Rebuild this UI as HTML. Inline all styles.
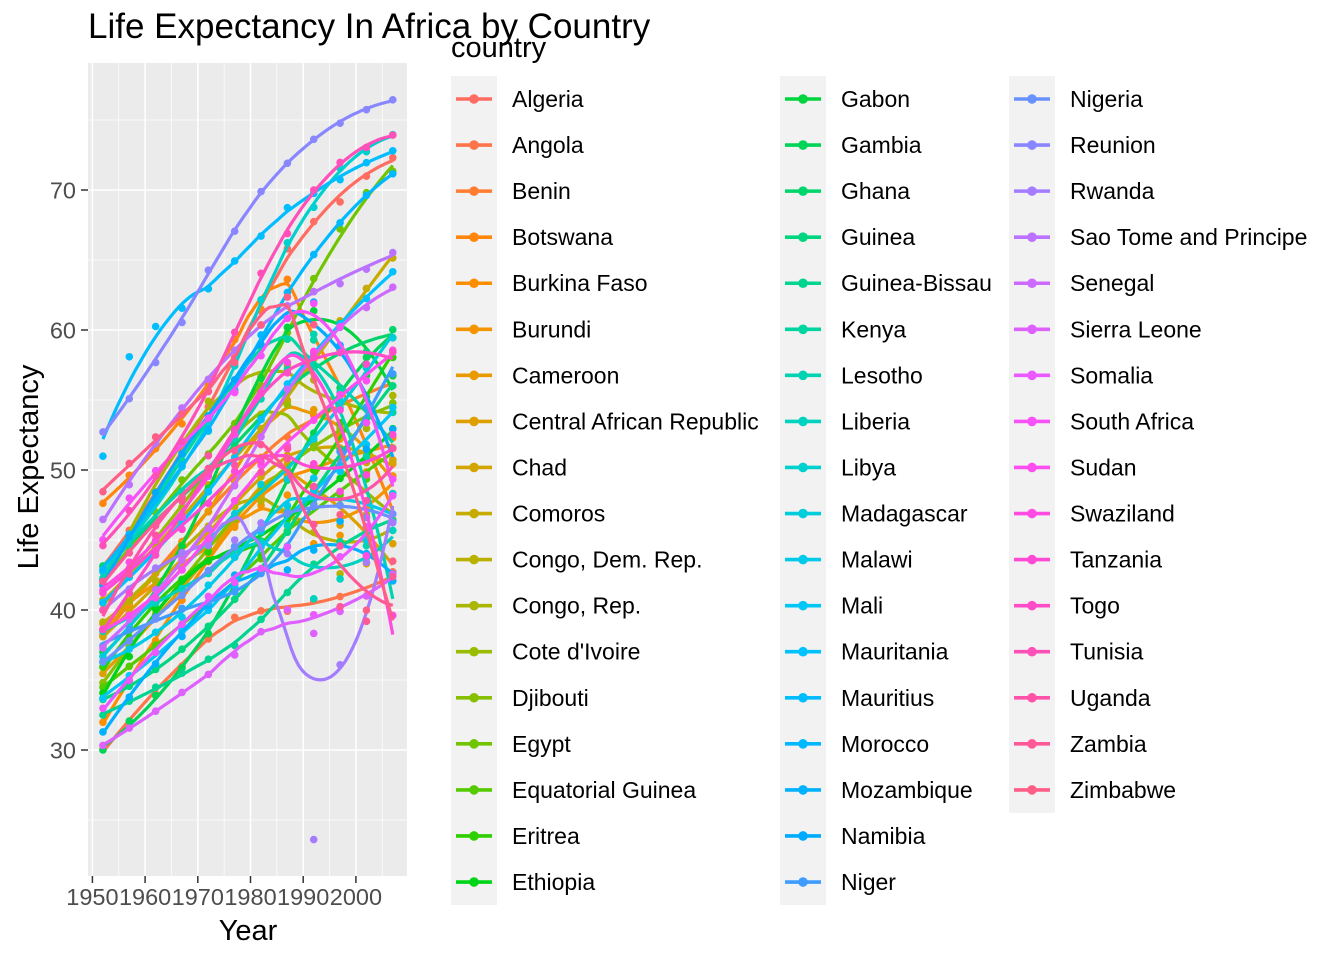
<!DOCTYPE html>
<html><head><meta charset="utf-8"><style>
body{margin:0;background:#fff;font-family:"Liberation Sans",Arial,sans-serif}
svg text{font-family:"Liberation Sans",Arial,sans-serif}
</style></head><body>
<svg id="chart" width="1344" height="960" xmlns="http://www.w3.org/2000/svg">
<rect width="1344" height="960" fill="#fff"/>
<rect x="88" y="63" width="319" height="813" fill="#EBEBEB"/>
<g id="grid"></g>
<g id="marks"></g>
<g id="axes"></g>
<text x="248" y="940" font-size="29" text-anchor="middle" fill="#000">Year</text>
<text transform="translate(38,467) rotate(-90)" font-size="29" text-anchor="middle" fill="#000">Life Expectancy</text>
<g id="legend"></g>
<text x="451" y="57" font-size="29" fill="#000">country</text>
<text x="88" y="38" font-size="35" fill="#000">Life Expectancy In Africa by Country</text>
</svg>
<script>
const years=[1952,1957,1962,1967,1972,1977,1982,1987,1992,1997,2002,2007];
const countries=["Algeria","Angola","Benin","Botswana","Burkina Faso","Burundi","Cameroon","Central African Republic","Chad","Comoros","Congo, Dem. Rep.","Congo, Rep.","Cote d'Ivoire","Djibouti","Egypt","Equatorial Guinea","Eritrea","Ethiopia","Gabon","Gambia","Ghana","Guinea","Guinea-Bissau","Kenya","Lesotho","Liberia","Libya","Madagascar","Malawi","Mali","Mauritania","Mauritius","Morocco","Mozambique","Namibia","Niger","Nigeria","Reunion","Rwanda","Sao Tome and Principe","Senegal","Sierra Leone","Somalia","South Africa","Sudan","Swaziland","Tanzania","Togo","Tunisia","Uganda","Zambia","Zimbabwe"];
const lifeExp=[
[43.08,45.69,48.30,51.41,54.52,58.01,61.37,65.80,67.74,69.15,70.99,72.30],
[30.02,32.00,34.00,35.99,37.93,39.48,39.94,39.91,40.65,40.96,41.00,42.73],
[38.22,40.36,42.62,44.89,47.01,49.19,50.90,52.34,53.92,54.78,54.41,56.73],
[47.62,49.62,51.52,53.30,56.02,59.32,61.48,63.62,62.75,52.56,46.63,50.73],
[31.98,34.91,37.81,40.70,43.59,46.14,48.12,49.56,50.26,50.32,50.65,52.30],
[39.03,40.53,42.05,43.55,44.06,45.91,47.47,48.21,44.74,45.33,47.36,49.58],
[38.52,40.43,42.64,44.80,47.05,49.36,52.96,54.99,54.31,52.20,49.86,50.43],
[35.46,37.46,39.48,41.48,43.46,46.78,48.30,50.49,49.40,46.07,43.31,44.74],
[38.09,39.88,41.72,43.60,45.57,47.38,49.52,51.05,51.72,51.57,50.53,50.65],
[40.72,42.46,44.47,46.47,48.94,50.94,52.93,54.93,57.94,60.66,62.97,65.15],
[39.14,40.65,42.12,44.06,45.99,47.80,47.78,47.41,45.55,42.59,44.97,46.46],
[42.11,45.05,48.44,52.04,54.91,55.63,56.70,57.47,56.43,52.96,52.97,55.32],
[40.48,42.47,44.93,47.35,49.80,52.37,53.98,54.66,52.04,47.99,46.83,48.33],
[34.81,37.33,39.69,42.07,44.37,46.52,48.81,50.04,51.60,53.16,53.37,54.79],
[41.89,44.44,46.99,49.29,51.14,53.32,56.01,59.80,63.67,67.22,69.81,71.34],
[34.48,35.98,37.49,38.99,40.52,42.02,43.66,45.66,47.55,48.25,49.35,51.58],
[35.93,38.05,40.16,42.19,44.14,44.54,43.89,46.45,49.99,53.38,55.24,58.04],
[34.08,36.67,40.06,42.12,43.52,44.51,44.92,46.68,48.09,49.40,50.73,52.95],
[37.00,39.00,40.49,44.60,48.69,52.79,56.56,60.19,61.37,60.46,56.76,56.74],
[30.00,32.07,33.90,35.86,38.31,41.84,45.58,49.27,52.64,55.86,58.04,59.45],
[43.15,44.78,46.45,48.07,49.88,51.76,53.74,55.73,57.50,58.56,58.45,60.02],
[33.61,34.56,35.75,37.20,38.84,40.76,42.89,45.55,48.58,51.46,53.68,56.01],
[32.50,33.49,34.49,35.49,36.49,37.47,39.33,41.25,43.27,44.87,45.50,46.39],
[42.27,44.69,47.95,50.65,53.56,56.16,58.77,59.34,59.29,54.41,50.99,54.11],
[42.14,45.05,47.75,48.49,49.77,52.21,55.08,57.18,59.69,55.56,44.59,42.59],
[38.48,39.49,40.50,41.54,42.61,43.76,44.85,46.03,40.80,42.22,43.75,45.68],
[42.72,45.29,47.81,50.23,52.77,57.44,62.16,66.23,68.76,71.56,72.74,73.95],
[36.68,38.87,40.85,42.88,44.85,46.88,48.97,49.35,52.21,54.98,57.29,59.44],
[36.26,37.21,38.41,39.49,41.77,43.77,45.64,47.46,49.42,47.50,45.01,48.30],
[33.69,35.31,36.94,38.49,39.98,41.71,44.50,47.00,48.39,49.90,51.82,54.47],
[40.54,42.34,44.25,46.29,48.44,50.85,53.60,56.15,58.33,60.43,62.25,64.16],
[50.99,58.09,60.25,61.56,62.94,64.93,66.71,68.74,69.75,70.74,71.95,72.80],
[42.87,45.42,47.92,50.34,52.86,55.73,59.65,62.68,65.39,67.66,69.62,71.16],
[31.29,33.78,36.16,38.11,40.33,42.50,42.80,42.86,44.28,46.34,44.03,42.08],
[41.73,45.23,48.39,51.16,53.87,56.44,58.97,60.84,62.00,58.91,51.48,52.91],
[37.44,38.60,39.49,40.12,40.55,41.29,42.60,44.56,47.39,51.31,54.50,56.87],
[36.32,37.80,39.36,41.04,42.82,44.51,45.83,46.89,47.47,47.46,46.61,46.86],
[52.72,55.09,57.67,60.54,64.27,67.06,69.89,71.91,73.62,74.77,75.74,76.44],
[40.00,41.50,43.00,44.10,44.60,45.00,46.22,44.02,23.60,36.09,43.41,46.24],
[46.47,48.95,51.89,54.43,56.48,58.55,60.35,61.73,62.74,63.31,64.34,65.53],
[37.28,39.33,41.45,43.56,45.82,48.88,52.38,55.77,58.20,60.19,61.60,63.06],
[30.33,31.57,32.77,34.11,35.40,36.79,38.45,40.01,38.33,39.90,41.01,42.57],
[32.98,34.98,36.98,38.98,40.97,41.97,42.96,44.50,39.66,43.80,45.94,48.16],
[45.01,47.99,49.95,51.93,53.70,55.53,58.16,60.83,61.89,60.24,53.37,49.34],
[38.64,39.62,40.87,42.86,45.08,47.80,50.34,51.74,53.56,55.37,56.37,58.56],
[41.41,43.42,44.99,46.63,49.55,52.54,55.56,57.68,58.47,54.29,43.87,39.61],
[41.22,42.97,44.25,45.76,47.62,49.92,50.61,51.54,50.44,48.47,49.65,52.52],
[38.60,41.21,43.92,46.77,49.76,52.89,55.47,56.94,58.06,58.39,57.56,58.42],
[44.60,47.10,49.58,52.05,55.60,59.84,64.05,66.89,70.00,71.97,73.04,73.92],
[39.98,42.57,45.34,48.05,51.02,50.35,49.85,51.51,48.83,44.58,47.81,51.54],
[42.04,44.08,46.02,47.77,50.11,51.39,51.82,50.82,46.10,40.24,39.19,42.38],
[48.45,50.47,52.36,54.00,55.64,57.67,60.36,62.35,60.38,46.81,39.99,43.49]];
const yTicks=[30,40,50,60,70];
const xTicks=[1950,1960,1970,1980,1990,2000];

const NS="http://www.w3.org/2000/svg";
const X=v=>92.4+(v-1950)*5.27;
const Y=v=>750-(v-30)*14;
function mk(tag,attrs,parent){const e=document.createElementNS(NS,tag);for(const k in attrs)e.setAttribute(k,attrs[k]);parent.appendChild(e);return e;}
function hcl(h){const L=65,C=100,r=h*Math.PI/180;const U=C*Math.cos(r),V=C*Math.sin(r);
const Xn=95.047,Yn=100,Zn=108.883;const Yv=Yn*Math.pow((L+16)/116,3);
const un=4*Xn/(Xn+15*Yn+3*Zn),vn=9*Yn/(Xn+15*Yn+3*Zn);
const u=U/(13*L)+un,v=V/(13*L)+vn;const Xv=9*Yv*u/(4*v),Zv=(12-3*u-20*v)*Yv/(4*v);
const x=Xv/100,y=Yv/100,z=Zv/100;
let R=3.2404542*x-1.5371385*y-0.4985314*z,G=-0.9692660*x+1.8760108*y+0.0415560*z,B=0.0556434*x-0.2040259*y+1.0572252*z;
const g=c=>{c=Math.max(0,Math.min(1,c));c=c<=0.0031308?12.92*c:1.055*Math.pow(c,1/2.4)-0.055;return c*255;};
let rgb=[g(R),g(G),g(B)];const m=(rgb[0]+rgb[1]+rgb[2])/3;
rgb=rgb.map(c=>Math.round(Math.max(0,Math.min(255,m+(c-m)*1.25))));
return `rgb(${rgb[0]},${rgb[1]},${rgb[2]})`;}
const n=countries.length;const cols=countries.map((c,i)=>hcl(15+i*360/(n+1)));

const grid=document.getElementById('grid');
[25,35,45,55,65,75].forEach(v=>{const l=mk('line',{x1:88,x2:407,y1:Y(v),y2:Y(v),stroke:'#fff','stroke-width':0.7},grid);});
[1955,1965,1975,1985,1995,2005].forEach(v=>{const l=mk('line',{x1:X(v),x2:X(v),y1:63,y2:876,stroke:'#fff','stroke-width':0.7},grid);});
yTicks.forEach(v=>{const l=mk('line',{x1:88,x2:407,y1:Y(v),y2:Y(v),stroke:'#fff','stroke-width':1.5},grid);});
xTicks.forEach(v=>{const l=mk('line',{x1:X(v),x2:X(v),y1:63,y2:876,stroke:'#fff','stroke-width':1.5},grid);});

const axes=document.getElementById('axes');
yTicks.forEach(v=>{mk('line',{x1:81,x2:88,y1:Y(v),y2:Y(v),stroke:'#333','stroke-width':1.5},axes);
const t=mk('text',{x:76,y:Y(v)+8.5,'font-size':23.5,'text-anchor':'end',fill:'#4D4D4D'},axes);t.textContent=v;
});
xTicks.forEach(v=>{mk('line',{x1:X(v),x2:X(v),y1:876,y2:883,stroke:'#333','stroke-width':1.5},axes);
const t=mk('text',{x:X(v),y:905,'font-size':23.5,'text-anchor':'middle',fill:'#4D4D4D'},axes);t.textContent=v;
});

function loess(xs,ys,x0){const q=Math.ceil(0.75*xs.length);
const d=xs.map(x=>Math.abs(x-x0));const sd=[...d].sort((a,b)=>a-b);const h=sd[q-1]*1.0001;
let S=[0,0,0,0,0],T=[0,0,0];
for(let i=0;i<xs.length;i++){let u=d[i]/h;if(u>=1)continue;const w=Math.pow(1-u*u*u,3);const t=xs[i]-x0;
S[0]+=w;S[1]+=w*t;S[2]+=w*t*t;S[3]+=w*t*t*t;S[4]+=w*t*t*t*t;T[0]+=w*ys[i];T[1]+=w*t*ys[i];T[2]+=w*t*t*ys[i];}
const M=[[S[0],S[1],S[2]],[S[1],S[2],S[3]],[S[2],S[3],S[4]]];
const det=m=>m[0][0]*(m[1][1]*m[2][2]-m[1][2]*m[2][1])-m[0][1]*(m[1][0]*m[2][2]-m[1][2]*m[2][0])+m[0][2]*(m[1][0]*m[2][1]-m[1][1]*m[2][0]);
const D=det(M);const M0=M.map((r,i)=>[T[i],r[1],r[2]]);return det(M0)/D;}

const marks=document.getElementById('marks');
countries.forEach((c,i)=>{const g=mk('g',{},marks);
lifeExp[i].forEach((v,j)=>{const p=mk('circle',{cx:X(years[j]),cy:Y(v),r:3.8,fill:cols[i]},g);});
let pts=[];for(let k=0;k<=80;k++){const x=1952+55*k/80;pts.push(X(x).toFixed(1)+','+Y(loess(years,lifeExp[i],x)).toFixed(1));}
const l=mk('polyline',{points:pts.join(' '),fill:'none',stroke:cols[i],'stroke-width':3.2},g);});

const leg=document.getElementById('legend');
const colX=[451,780,1009],perCol=18;
[0,1,2].forEach(ci=>{const cnt=Math.min(perCol,n-ci*perCol);const r=mk('rect',{x:colX[ci],y:76,width:46,height:cnt*46.06,fill:'#F2F2F2'},leg);});
countries.forEach((c,i)=>{const ci=Math.floor(i/perCol),ri=i%perCol;const x=colX[ci],y=99+ri*46.06;
const g=mk('g',{},leg);
mk('line',{x1:x+5,x2:x+41,y1:y,y2:y,stroke:cols[i],'stroke-width':3.6},g);
mk('circle',{cx:x+23,cy:y,r:4.8,fill:cols[i]},g);
const t=mk('text',{x:x+61,y:y+8,'font-size':23,fill:'#000'},g);t.textContent=c;});
</script>
</body></html>
